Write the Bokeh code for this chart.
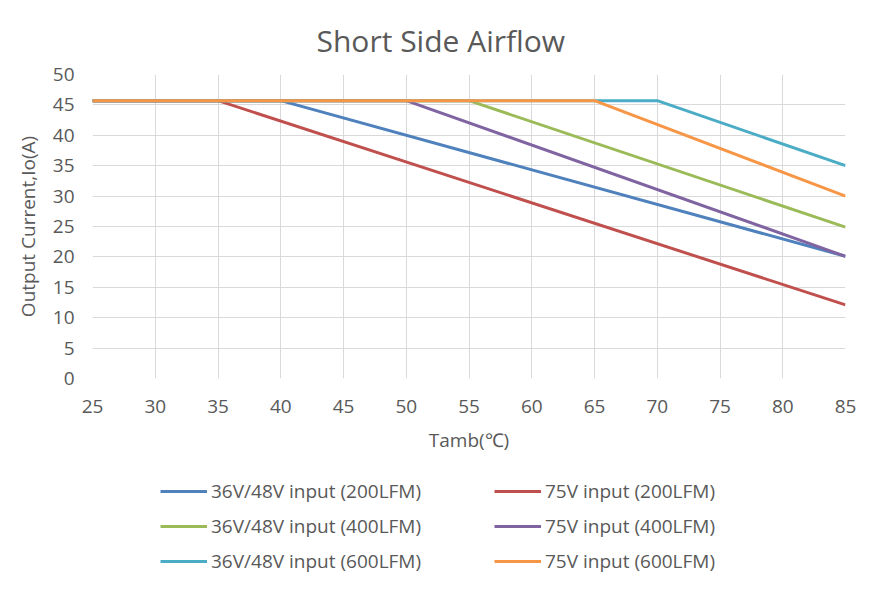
from bokeh.plotting import figure
from bokeh.models import Range1d, Legend, LegendItem, FixedTicker, Title
from bokeh.layouts import column
from bokeh.embed import file_html
from bokeh.resources import INLINE

# ---- data ----
names = ["36V/48V input (200LFM)", "75V input (200LFM)",
         "36V/48V input (400LFM)", "75V input (400LFM)",
         "36V/48V input (600LFM)", "75V input (600LFM)"]
colors = ["#4F81BD", "#C0504D", "#9BBB59", "#8064A2", "#4BACC6", "#F79646"]
x_200_48 = [25, 40, 85]; y_200_48 = [45.7, 45.7, 20.1]
x_200_75 = [25, 35, 85]; y_200_75 = [45.7, 45.7, 12.1]
x_400_48 = [25, 55, 85]; y_400_48 = [45.7, 45.7, 24.9]
x_400_75 = [25, 50, 85]; y_400_75 = [45.7, 45.7, 20.1]
x_600_48 = [25, 70, 85]; y_600_48 = [45.7, 45.7, 35.0]
x_600_75 = [25, 65, 85]; y_600_75 = [45.7, 45.7, 30.0]
xs = [x_200_48, x_200_75, x_400_48, x_400_75, x_600_48, x_600_75]
ys = [y_200_48, y_200_75, y_400_48, y_400_75, y_600_48, y_600_75]
x_ticks = list(range(25, 90, 5))
y_ticks = list(range(0, 55, 5))

FONT = "Open Sans"
GREY = "#595959"

p = figure(width=882, height=460, output_backend="svg", toolbar_location=None,
           x_range=Range1d(25, 85), y_range=Range1d(0, 50),
           min_border_left=92, min_border_right=37, min_border_top=74,
           min_border_bottom=82)
p.outline_line_color = None
p.background_fill_color = "white"
p.border_fill_color = "white"

for ax in (p.xaxis[0], p.yaxis[0]):
    ax.axis_line_color = None
    ax.major_tick_line_color = None
    ax.minor_tick_line_color = None
    ax.major_tick_out = 0
    ax.major_tick_in = 0
    ax.minor_tick_out = 0
    ax.minor_tick_in = 0
    ax.major_label_text_font = FONT
    ax.major_label_text_font_size = "19px"
    ax.major_label_text_color = GREY
    ax.axis_label_text_font = FONT
    ax.axis_label_text_font_size = "19px"
    ax.axis_label_text_color = GREY
    ax.axis_label_text_font_style = "normal"
p.xaxis.ticker = FixedTicker(ticks=x_ticks)
p.yaxis.ticker = FixedTicker(ticks=y_ticks)
p.xaxis.axis_label = "Tamb(℃)"
p.yaxis.axis_label = "Output Current,Io(A)"
p.xaxis.major_label_standoff = 21
p.yaxis.major_label_standoff = 18
p.xaxis.axis_label_standoff = 11
p.yaxis.axis_label_standoff = 9

p.xgrid.ticker = FixedTicker(ticks=x_ticks)
p.ygrid.ticker = FixedTicker(ticks=y_ticks)
p.xgrid.grid_line_color = "#D9D9D9"
p.ygrid.grid_line_color = "#D9D9D9"

for x, y, c in zip(xs, ys, colors):
    p.line(x, y, line_color=c, line_width=3, line_join="round")

t = Title(text="Short Side Airflow", align="left", offset=224, standoff=28,
          text_font=FONT, text_font_size="30px", text_color=GREY,
          text_font_style="normal")
p.add_layout(t, "above")

# ---- legend figure (proxy lines lie outside its visible range) ----
q = figure(width=882, height=132, output_backend="svg", toolbar_location=None,
           x_range=Range1d(0, 1), y_range=Range1d(0, 1),
           min_border=0, x_axis_location=None, y_axis_location=None)
q.outline_line_color = None
q.grid.visible = False
q.border_fill_color = "white"
q.background_fill_color = "white"
leg_renderers = [q.line([-2, -1], [-2, -1], line_color=c, line_width=3) for c in colors]
items = [LegendItem(label=n, renderers=[r]) for n, r in zip(names, leg_renderers)]
lg = Legend(items=items, location=(68, 18), orientation="horizontal", ncols=2,
            label_text_font=FONT, label_text_font_size="19px",
            label_text_color=GREY, glyph_width=47, glyph_height=20,
            label_standoff=4, label_width=274, spacing=9, padding=0, margin=0,
            border_line_color=None, background_fill_alpha=0)
q.add_layout(lg, "center")

layout = column(p, q, spacing=0)
open("out.html", "w").write(file_html(layout, INLINE))
